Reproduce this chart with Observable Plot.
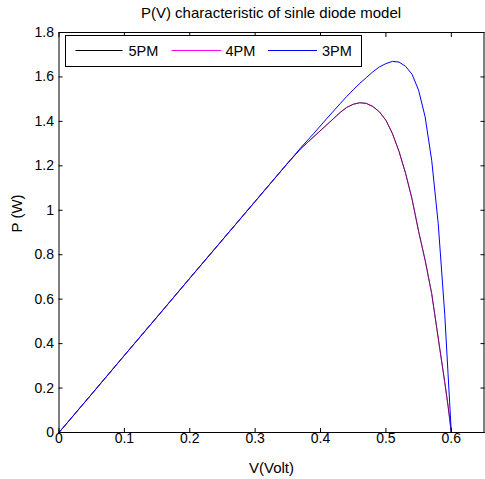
<!DOCTYPE html>
<html><head><meta charset="utf-8">
<script src="https://cdn.jsdelivr.net/npm/d3@7"></script>
<script src="https://cdn.jsdelivr.net/npm/@observablehq/plot@0.6"></script>
<style>
body{margin:0;background:#fff;font-family:"Liberation Sans",Arial,sans-serif;}
#wrap{position:relative;width:485px;height:479px;}
#title{position:absolute;left:58.5px;top:3px;width:425px;text-align:center;font-size:15px;line-height:20px;color:#000;}
#legend{position:absolute;left:65px;top:35px;width:295px;height:30px;border:1px solid #000;background:#fff;}
</style></head>
<body>
<div id="wrap"><div id="chart"></div><div id="title"></div><div id="legend"></div></div>
<script>
const titleText = "P(V) characteristic of sinle diode model";
const xLabel = "V(Volt)";
const yLabel = "P (W)";
const xTicks = [0, 0.1, 0.2, 0.3, 0.4, 0.5, 0.6];
const yTicks = [0, 0.2, 0.4, 0.6, 0.8, 1, 1.2, 1.4, 1.6, 1.8];
const seriesNames = ["5PM", "4PM", "3PM"];
const seriesColors = ["#000000", "#ff00ff", "#0000ff"];

const volts = [0, 0.05, 0.1, 0.15, 0.2, 0.25, 0.3, 0.35, 0.37, 0.39, 0.41, 0.43, 0.44, 0.45, 0.46, 0.47, 0.48, 0.49, 0.50, 0.51, 0.52, 0.53, 0.54, 0.55, 0.56, 0.57, 0.58, 0.59, 0.595, 0.6, 0.65];
const p5pm = [0, 0.173, 0.347, 0.520, 0.694, 0.867, 1.040, 1.213, 1.278, 1.332, 1.386, 1.440, 1.463, 1.477, 1.484, 1.481, 1.467, 1.443, 1.405, 1.345, 1.265, 1.167, 1.050, 0.905, 0.775, 0.625, 0.425, 0.225, 0.120, 0, 0];
const p4pm = [0, 0.173, 0.347, 0.520, 0.694, 0.867, 1.040, 1.213, 1.278, 1.332, 1.386, 1.440, 1.463, 1.477, 1.484, 1.481, 1.467, 1.443, 1.405, 1.345, 1.265, 1.167, 1.050, 0.905, 0.775, 0.625, 0.425, 0.225, 0.120, 0, 0];
const p3pm = [0, 0.173, 0.347, 0.520, 0.694, 0.867, 1.040, 1.213, 1.282, 1.347, 1.414, 1.480, 1.512, 1.542, 1.571, 1.597, 1.623, 1.645, 1.660, 1.670, 1.667, 1.648, 1.612, 1.540, 1.420, 1.225, 0.940, 0.530, 0.265, 0, 0];

document.getElementById("title").textContent = titleText;
const rows = (ps) => volts.map((v, i) => ({v, p: ps[i]}));
const fmt = d => String(d);
const ff = "'Liberation Sans', Arial, sans-serif";

const chart = Plot.plot({
  width: 485, height: 479,
  marginLeft: 58.5, marginRight: 1.5, marginTop: 32, marginBottom: 47,
  style: {fontFamily: ff, fontSize: "14px", background: "white", color: "black", overflow: "visible"},
  x: {domain: [0, 0.65]},
  y: {domain: [0, 1.8]},
  marks: [
    Plot.line(rows(p5pm), {x: "v", y: "p", stroke: seriesColors[0], strokeWidth: 1, curve: "linear"}),
    Plot.line(rows(p4pm), {x: "v", y: "p", stroke: seriesColors[1], strokeOpacity: 0.5, strokeWidth: 1, curve: "linear"}),
    Plot.line(rows(p3pm), {x: "v", y: "p", stroke: seriesColors[2], strokeWidth: 1, curve: "linear"}),
    Plot.frame({stroke: "black", strokeWidth: 1}),
    Plot.axisX(xTicks, {anchor: "bottom", tickSize: -4, tickPadding: 5, tickFormat: fmt, label: null, fontSize: 14}),
    Plot.axisX(xTicks, {anchor: "top", tickSize: -4, tickFormat: () => "", label: null}),
    Plot.axisY(yTicks, {anchor: "left", tickSize: -4, tickPadding: 9, tickFormat: fmt, label: null, fontSize: 14}),
    Plot.axisY(yTicks, {anchor: "right", tickSize: -4, tickFormat: () => "", label: null}),
    Plot.text([xLabel], {frameAnchor: "bottom", dy: 36, text: d => d, lineAnchor: "middle", fontSize: 15}),
    Plot.text([yLabel], {frameAnchor: "left", dx: -42, rotate: -90, text: d => d, lineAnchor: "middle", fontSize: 15})
  ]
});
document.getElementById("chart").appendChild(chart);

// legend
const lg = d3.select("#legend").append("svg").attr("width", 295).attr("height", 30).style("display", "block");
const swX = [9.5, 105.5, 202];
const swW = [47, 50, 49];
const txX = [62.5, 159.5, 256];
seriesNames.forEach((name, i) => {
  lg.append("line").attr("x1", swX[i]).attr("x2", swX[i] + swW[i]).attr("y1", 14.5).attr("y2", 14.5)
    .attr("stroke", seriesColors[i]).attr("stroke-width", 1);
  lg.append("text").attr("x", txX[i]).attr("y", 20).attr("font-size", 14.5)
    .attr("font-family", ff).text(name);
});
</script>
</body></html>
